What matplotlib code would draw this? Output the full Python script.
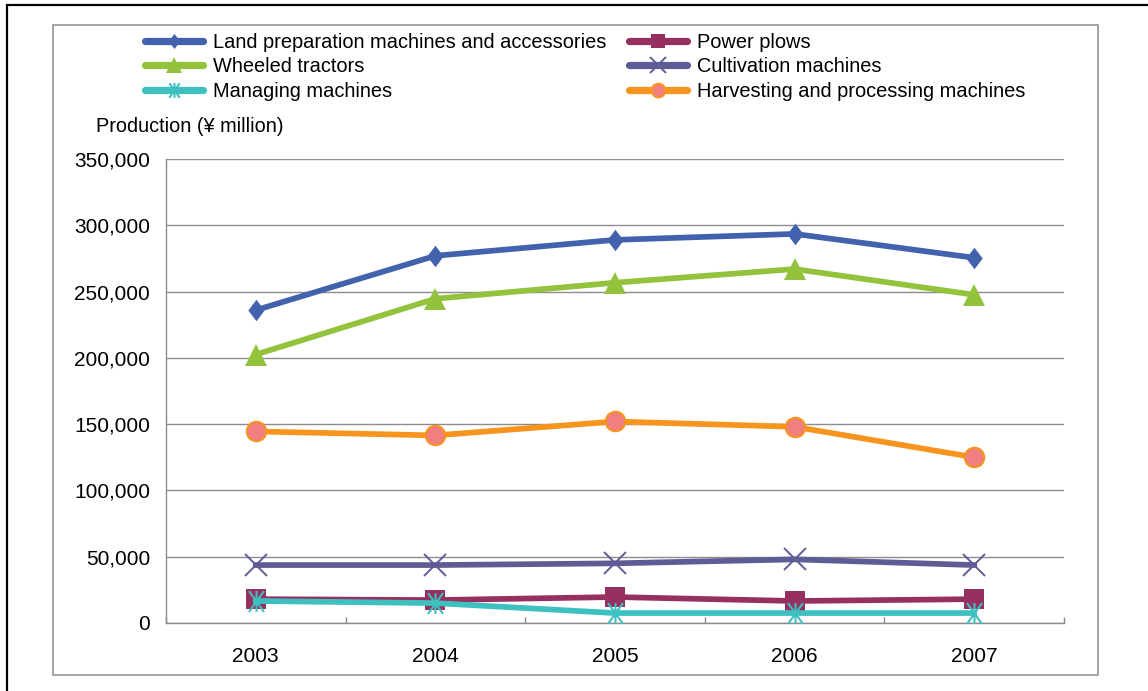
import matplotlib
matplotlib.use("Agg")
import matplotlib.pyplot as plt
from matplotlib.lines import Line2D
from matplotlib.path import Path
from matplotlib.patches import Rectangle

plt.rcParams['font.family'] = ['Liberation Sans', 'DejaVu Sans']

years = ['2003', '2004', '2005', '2006', '2007']
land_prep = [236000, 277000, 289000, 293500, 275500]
power_plows = [18000, 17300, 19600, 16600, 18000]
wheeled_tractors = [202500, 244600, 256700, 267000, 247600]
cultivation = [43700, 43700, 45000, 48000, 43700]
managing = [16600, 15000, 7500, 7500, 7500]
harvesting = [144500, 141500, 152000, 148000, 125000]

y_ticks = [0, 50000, 100000, 150000, 200000, 250000, 300000, 350000]
y_tick_labels = ['0', '50,000', '100,000', '150,000', '200,000', '250,000', '300,000', '350,000']
y_title = 'Production (\u00a5 million)'

W, H = 1148, 691
fig = plt.figure(figsize=(W / 100, H / 100), dpi=100)

# frames
fig.patches.append(Rectangle((7 / W, -0.2), 1.2, 1 - 5 / H + 0.2, transform=fig.transFigure,
                             fill=False, edgecolor='black', lw=1.6, zorder=0))
fig.patches.append(Rectangle((53 / W, 1 - 675 / H), (1098 - 53) / W, (675 - 25) / H,
                             transform=fig.transFigure, fill=False, edgecolor='#8c8c8c',
                             lw=1.1, zorder=0))

ax = fig.add_axes([166 / W, 1 - 623 / H, (1064 - 166) / W, (623 - 159) / H])

diamond = Path([(0, 1), (0.76, 0), (0, -1), (-0.76, 0), (0, 1)],
               [Path.MOVETO, Path.LINETO, Path.LINETO, Path.LINETO, Path.CLOSEPOLY])
star = Path([(0, -1), (0, 1), (-0.72, -1), (0.72, 1), (-0.72, 1), (0.72, -1)],
            [Path.MOVETO, Path.LINETO, Path.MOVETO, Path.LINETO, Path.MOVETO, Path.LINETO])

x = list(range(len(years)))
lw = 4.1
series = [
    ('Land preparation machines and accessories', land_prep,
     dict(color='#4262AE', marker=diamond, ms=15.5, mfc='#4262AE', mec='#4262AE', mew=0)),
    ('Power plows', power_plows,
     dict(color='#953060', marker='s', ms=14, mfc='#953060', mec='#953060', mew=0)),
    ('Wheeled tractors', wheeled_tractors,
     dict(color='#93C23C', marker='^', ms=16, mfc='#93C23C', mec='#93C23C', mew=0)),
    ('Cultivation machines', cultivation,
     dict(color='#5E5C94', marker='x', ms=15.5, mfc='none', mec='#5E5C94', mew=1.4)),
    ('Managing machines', managing,
     dict(color='#3EC0C0', marker=star, ms=15, mfc='none', mec='#3EC0C0', mew=1.5)),
    ('Harvesting and processing machines', harvesting,
     dict(color='#F7941E', marker='o', ms=14, mfc='#F08080', mec='#F7941E', mew=1.5)),
]

handles = {}
for i, (name, vals, st) in enumerate(series):
    ax.plot(x, vals, lw=lw, solid_joinstyle='round', zorder=3 + i, clip_on=False, **st)
    hst = dict(st)
    hst['ms'] = st['ms'] * 0.7
    handles[name] = Line2D([], [], lw=5.2, solid_capstyle='round', **hst)

ax.set_xlim(-0.5, len(years) - 0.5)
ax.set_ylim(0, 350000)
ax.set_yticks(y_ticks)
ax.set_yticklabels(y_tick_labels, fontsize=15)
ax.set_xticks(x)
ax.set_xticklabels(years, fontsize=15)
ax.set_xticks([i - 0.5 for i in range(len(years) + 1)], minor=True)
ax.tick_params(axis='y', length=0, pad=11.5, colors='black')
ax.tick_params(axis='x', which='major', length=0, pad=17)
ax.tick_params(axis='x', which='minor', direction='in', length=4.5, color='#8c8c8c', width=1)
ax.grid(axis='y', color='#8c8c8c', lw=1)
ax.set_axisbelow(True)
for s in ['top', 'right']:
    ax.spines[s].set_visible(False)
for s in ['left', 'bottom']:
    ax.spines[s].set_color('#8c8c8c')
    ax.spines[s].set_linewidth(1)

fig.text(96 / W, 1 - 127 / H, y_title, fontsize=14.3, va='center', ha='left')

order = ['Land preparation machines and accessories', 'Wheeled tractors', 'Managing machines',
         'Power plows', 'Cultivation machines', 'Harvesting and processing machines']
leg = fig.legend([handles[n] for n in order], order, loc='upper left',
                 bbox_to_anchor=(145 / W, 1 - 33 / H), ncol=2, frameon=False, fontsize=14.4,
                 handlelength=2.9, handletextpad=0.5, labelspacing=0.27, columnspacing=1.15,
                 borderpad=0, borderaxespad=0)

fig.savefig('out.png', dpi=100)
